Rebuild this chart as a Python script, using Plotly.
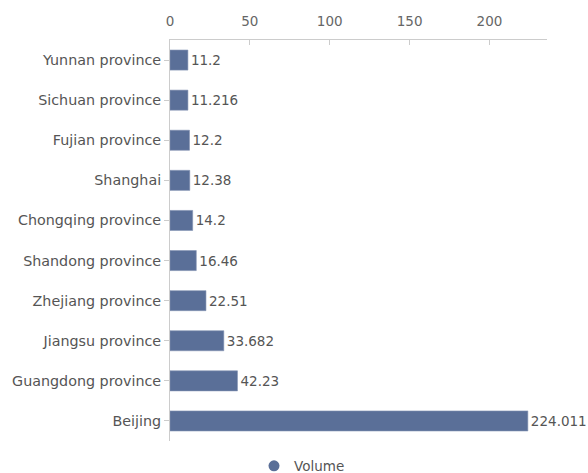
import plotly.graph_objects as go

provinces = ["Yunnan province", "Sichuan province", "Fujian province", "Shanghai",
             "Chongqing province", "Shandong province", "Zhejiang province",
             "Jiangsu province", "Guangdong province", "Beijing"]
volume = [11.2, 11.216, 12.2, 12.38, 14.2, 16.46, 22.51, 33.682, 42.23, 224.011]
x_ticks = [0, 50, 100, 150, 200]

bar_color = "#5a6f98"
font_family = "DejaVu Sans, Noto Sans, sans-serif"

fig = go.Figure()

# bars (legend entry is drawn by the round marker trace below)
fig.add_trace(go.Bar(
    x=volume, y=provinces, orientation="h", name="Volume",
    marker=dict(color=bar_color, line=dict(color="#8392b2", width=0.6)),
    width=0.5,
    text=[str(v) for v in volume], textposition="outside",
    textfont=dict(size=13.5, color="#555555", family=font_family),
    cliponaxis=False,
    showlegend=False,
))

# legend entry with a round symbol
fig.add_trace(go.Scatter(
    x=[None], y=[None], mode="markers", name="Volume",
    marker=dict(symbol="circle", size=11, color=bar_color),
    showlegend=True,
))

fig.update_layout(
    width=588, height=473,
    margin=dict(l=170, r=41, t=40, b=32, autoexpand=False),
    plot_bgcolor="white", paper_bgcolor="white",
    font=dict(family=font_family, size=13.5, color="#666666"),
    legend=dict(orientation="h", xref="container", x=254 / 588, xanchor="left",
                yref="container", y=(473 - 466) / 473, yanchor="middle",
                font=dict(size=13.5, color="#555555"),
                itemwidth=30, bgcolor="rgba(0,0,0,0)"),
    xaxis=dict(side="top", range=[0, 236], tickvals=x_ticks,
               showgrid=False, zeroline=False,
               showline=True, linecolor="#cccccc", linewidth=1,
               ticks="inside", ticklen=5, tickcolor="#cccccc",
               ticklabelstandoff=8,
               tickfont=dict(size=13.5, color="#666666")),
    yaxis=dict(categoryorder="array", categoryarray=provinces,
               autorange="reversed",
               showgrid=False, zeroline=False,
               showline=True, linecolor="#cccccc", linewidth=1,
               ticks="outside", ticklen=5, tickcolor="#cccccc",
               tickfont=dict(size=14.3, color="#555555")),
)

fig.write_html("out.html")
